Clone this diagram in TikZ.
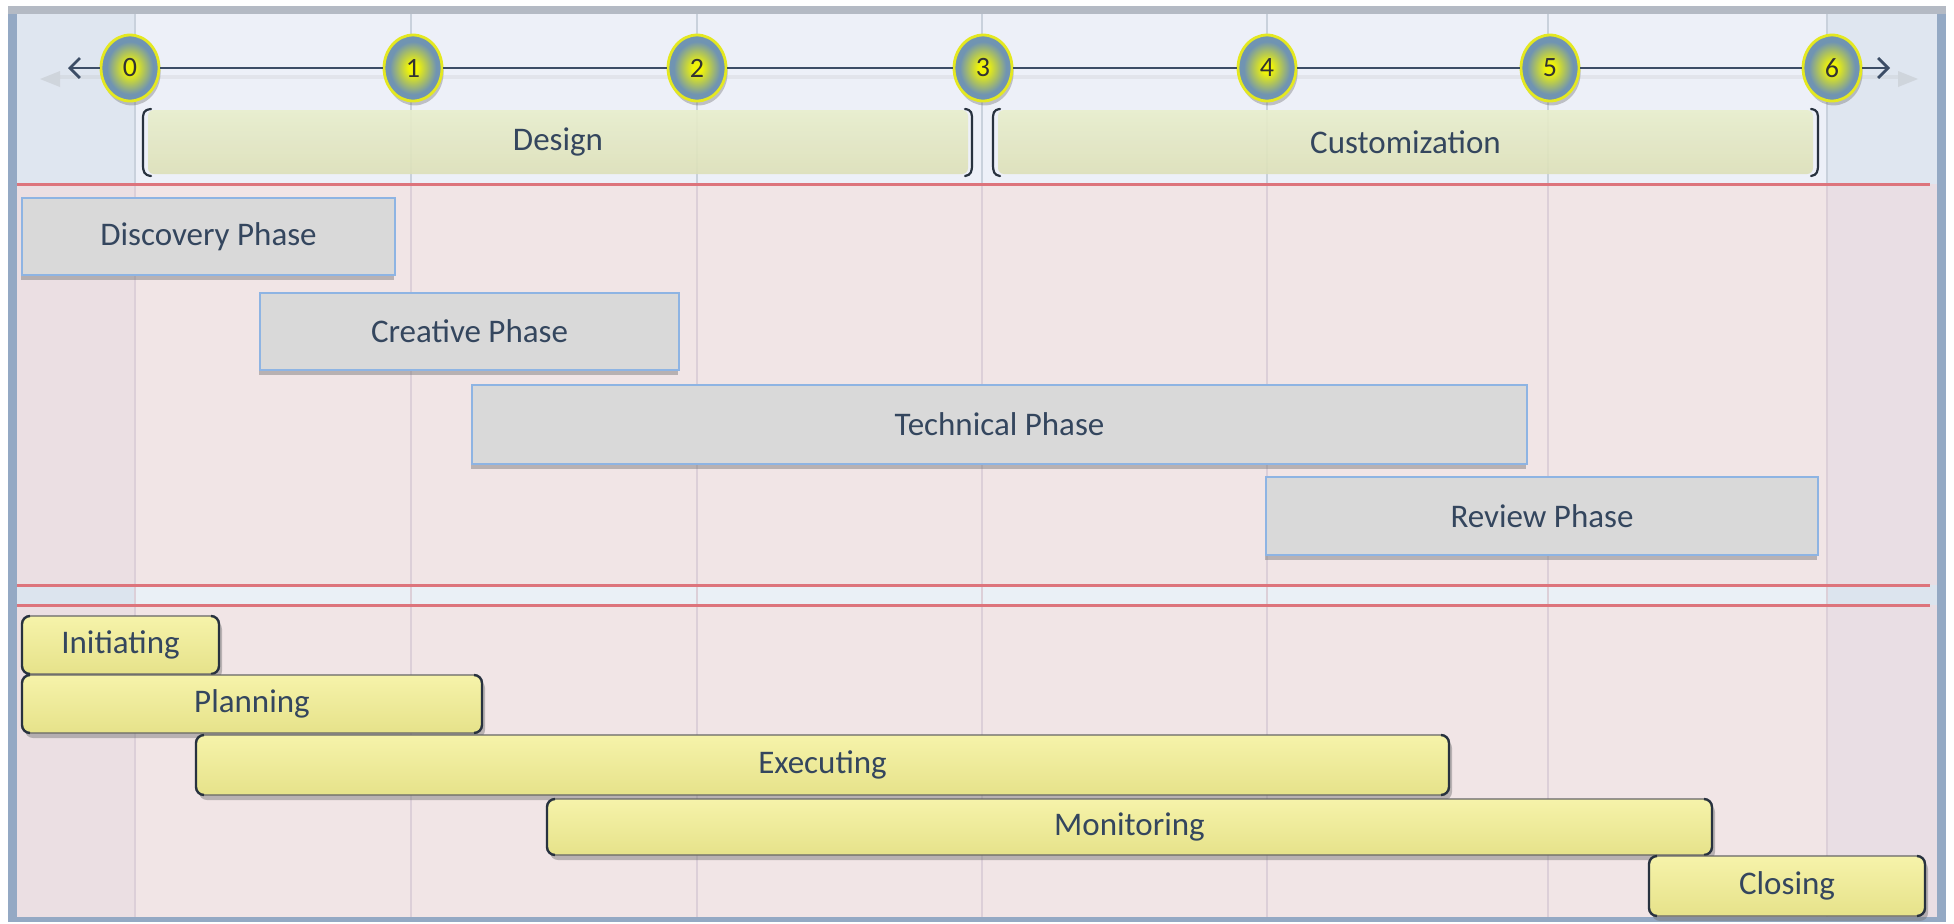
\documentclass[tikz,border=0pt]{standalone}
\usepackage{fontspec}
\setmainfont{Carlito}
\usetikzlibrary{shadows,arrows.meta,shapes.geometric}

% palette
\definecolor{txt}{HTML}{34465E}
\definecolor{framebar}{HTML}{94A9C4}
\definecolor{frametop}{HTML}{B4BAC4}
\definecolor{hdr}{HTML}{EDF0F8}
\definecolor{hdrcol}{HTML}{DFE6F0}
\definecolor{body}{HTML}{F1E5E6}
\definecolor{bodycolL}{HTML}{EBDFE3}
\definecolor{bodycolR}{HTML}{E9DEE4}
\definecolor{strip}{HTML}{EAF0F6}
\definecolor{stripcol}{HTML}{DCE4EE}
\definecolor{gridhdr}{HTML}{C9D1DC}
\definecolor{gridbody}{HTML}{DCCFD8}
\definecolor{redrule}{HTML}{DD747C}
\definecolor{axiscol}{HTML}{3C4D66}
\definecolor{bandtop}{HTML}{E8EECC}
\definecolor{bandbot}{HTML}{DDE0B8}
\definecolor{brkcol}{HTML}{28323F}
\definecolor{phasefill}{HTML}{D9D9D9}
\definecolor{phaseline}{HTML}{8EB4E3}
\definecolor{taskTop}{HTML}{F6F3AA}
\definecolor{taskBot}{HTML}{E6E28A}
\definecolor{bubA}{HTML}{F0F408}
\definecolor{bubB}{HTML}{B0C45A}
\definecolor{bubC}{HTML}{7094B2}
\definecolor{bubring}{HTML}{E4E820}

\pgfdeclareradialshading{bubble}{\pgfpoint{0bp}{0bp}}{%
  color(0bp)=(bubA); color(4bp)=(bubA); color(12bp)=(bubB);
  color(20bp)=(bubC); color(25bp)=(bubC); color(50bp)=(bubC)}

\tikzset{
  lbl/.style={font=\fontsize{16.5}{19}\selectfont, text=txt},
  boxbase/.style={rectangle, inner sep=0pt, outer sep=0pt},
  phasebox/.style={boxbase, lbl, fill=phasefill, draw=phaseline, line width=1.1pt,
    drop shadow={shadow xshift=-0.5pt, shadow yshift=-2.5pt, opacity=.45, fill=black!55}},
  taskbox/.style={boxbase, lbl, rounded corners=4pt, top color=taskTop, bottom color=taskBot,
    draw=black!60, line width=0.6pt,
    drop shadow={shadow xshift=1.5pt, shadow yshift=-2.5pt, opacity=.45, fill=black!55}},
  sidebar/.style={draw=brkcol, line width=1.2pt, rounded corners=4pt},
  band/.style={boxbase, lbl, rounded corners=3pt, top color=bandtop, bottom color=bandbot,
    fill opacity=.9, text opacity=1},
  bracketline/.style={draw=brkcol, line width=1.1pt, line cap=round},
  bubblenode/.style={ellipse, minimum width=29pt, minimum height=33pt, inner sep=0pt,
    shade, shading=bubble, draw=bubring, line width=1.4pt,
    font=\fontsize{14}{16}\selectfont, text=black!80,
    drop shadow={shadow xshift=0.8pt, shadow yshift=-2.2pt, opacity=.35, fill=black!60}},
  axisline/.style={draw=axiscol, line width=1.4pt},
  axistip/.style={-{Straight Barb[length=5pt,width=10pt,line width=1.4pt]}},
  ghost/.style={fill=black!40, opacity=.22},
}

\newcommand\sidebars[1]{%
  \draw[sidebar] ([xshift=4pt]#1.north west) -- (#1.north west) -- (#1.south west) -- ([xshift=4pt]#1.south west);
  \draw[sidebar] ([xshift=-4pt]#1.north east) -- (#1.north east) -- (#1.south east) -- ([xshift=-4pt]#1.south east);}

\begin{document}
\begin{tikzpicture}[x=0.5pt,y=-0.5pt]
\useasboundingbox (0,0) rectangle (1954,923);
\fill[white] (0,0) rectangle (1954,923);

% outer frame
\fill[framebar] (8,6) rectangle (1946,922);
\fill[frametop] (8,6) rectangle (1946,14);

% header band, body and middle strip, with darker edge columns
\fill[hdr] (17,14) rectangle (1937,184);
\fill[hdrcol] (17,14) rectangle (135,184);
\fill[hdrcol] (1827,14) rectangle (1937,184);
\fill[body] (17,184) rectangle (1937,917);
\fill[bodycolL] (17,184) rectangle (135,917);
\fill[bodycolR] (1827,184) rectangle (1937,917);
\fill[strip] (17,585) rectangle (1937,605);
\fill[stripcol] (17,585) rectangle (135,605);
\fill[stripcol] (1827,585) rectangle (1937,605);

% vertical grid
\foreach \x in {135,411,697,982,1267,1548,1827}{
  \draw[gridhdr, line width=1pt] (\x,14) -- (\x,184);
  \draw[gridbody, line width=1pt] (\x,184) -- (\x,917);
}

% horizontal rules
\draw[redrule, line width=1.5pt] (17,184) -- (1930,184);
\draw[redrule, line width=1.5pt] (17,585) -- (1930,585);
\draw[redrule, line width=1.5pt] (17,605) -- (1930,605);

% period bands
\node[band, minimum width=410pt, minimum height=32pt] (design) at (558,142) {Design};
\node[band, minimum width=407.5pt, minimum height=32pt] (custom) at (1405.5,142) {Customization};
\draw[bracketline] (151,109) .. controls (143,110) and (143,113) .. (143,121) -- (143,164) .. controls (143,172) and (144,175) .. (151,176);
\draw[bracketline] (965,109) .. controls (972,110) and (972,113) .. (972,121) -- (972,164) .. controls (972,172) and (971,175) .. (965,176);
\draw[bracketline] (1000,109) .. controls (993,110) and (993,113) .. (993,121) -- (993,164) .. controls (993,172) and (994,175) .. (1000,176);
\draw[bracketline] (1811,109) .. controls (1818,110) and (1818,113) .. (1818,121) -- (1818,164) .. controls (1818,172) and (1817,175) .. (1811,176);

% time axis
\fill[ghost] (40,79) -- (60,71) -- (60,87) -- cycle;
\fill[ghost] (1918,79) -- (1898,71) -- (1898,87) -- cycle;
\draw[black!30, opacity=.18, line width=2pt] (60,77) -- (1898,77);
\coordinate (axL) at (68,68);
\coordinate (axR) at (1890,68);
\node[bubblenode] (t0) at (130,68) {0};
\node[bubblenode] (t1) at (413,68) {1};
\node[bubblenode] (t2) at (697,68) {2};
\node[bubblenode] (t3) at (983,68) {3};
\node[bubblenode] (t4) at (1267,68) {4};
\node[bubblenode] (t5) at (1550,68) {5};
\node[bubblenode] (t6) at (1832,68) {6};
\draw[axisline, axistip] (t0) -- (axL);
\draw[axisline, axistip] (t6) -- (axR);
\foreach \a/\b in {t0/t1,t1/t2,t2/t3,t3/t4,t4/t5,t5/t6}
  \draw[axisline] (\a) -- (\b);

% project phases
\node[phasebox, minimum width=186.5pt, minimum height=38.5pt] (disc) at (208.5,236.5) {Discovery Phase};
\node[phasebox, minimum width=209.5pt, minimum height=38.5pt] (crea) at (469.5,331.5) {Creative Phase};
\node[phasebox, minimum width=527.5pt, minimum height=39.5pt] (tech) at (999.5,424.5) {Technical Phase};
\node[phasebox, minimum width=276pt, minimum height=39pt] (revw) at (1542,516) {Review Phase};

% process groups
\node[taskbox, minimum width=98.5pt, minimum height=29pt] (ini) at (120.5,645) {Initiating};
\sidebars{ini}
\node[taskbox, minimum width=230pt, minimum height=29pt] (plan) at (252,704) {Planning};
\sidebars{plan}
\node[taskbox, minimum width=626.5pt, minimum height=30pt] (exec) at (822.5,765) {Executing};
\sidebars{exec}
\node[taskbox, minimum width=582.5pt, minimum height=28pt] (mon) at (1129.5,827) {Monitoring};
\sidebars{mon}
\node[taskbox, minimum width=138pt, minimum height=30pt] (clos) at (1787,886) {Closing};
\sidebars{clos}
\end{tikzpicture}
\end{document}
